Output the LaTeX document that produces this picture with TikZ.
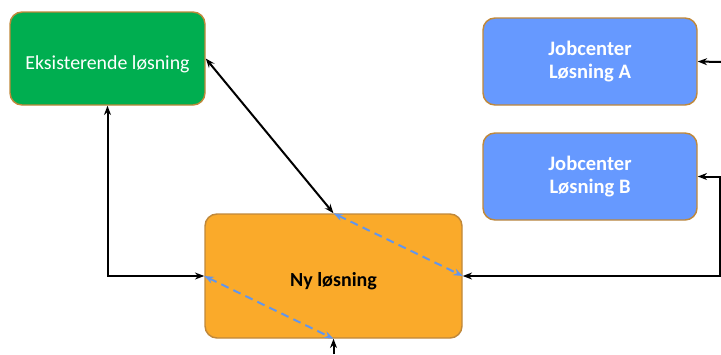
\documentclass[tikz,border=0pt]{standalone}
\usepackage{fontspec}
\setmainfont{Carlito}
\usetikzlibrary{arrows.meta}
\definecolor{kant}{RGB}{192,136,58}
\definecolor{groen}{RGB}{0,174,80}
\definecolor{blaa}{RGB}{102,153,255}
\definecolor{oransje}{RGB}{250,170,42}
\definecolor{stipla}{RGB}{98,150,236}
\tikzset{
  boks/.style={draw=kant, line width=1.1pt, rounded corners=9pt, align=center, execute at begin node={\rule{0pt}{19pt}}},
  boksgroen/.style={boks, fill=groen, text=white, minimum width=146.25pt, minimum height=69.75pt, font=\fontsize{14.9}{17}\selectfont},
  boksjob/.style={boks, fill=blaa, text=white, minimum width=160.5pt, minimum height=65.25pt, font=\fontsize{15.4}{17.5}\selectfont\bfseries},
  boksny/.style={boks, fill=oransje, text=black, minimum width=192.75pt, minimum height=93pt, font=\fontsize{15}{18}\selectfont\bfseries},
  pil/.style={line width=1.5pt, draw=black},
  stiplet/.style={line width=1.5pt, draw=stipla, dash pattern=on 6pt off 4pt, {Stealth[length=7pt]}-{Stealth[length=7pt]}}
}
\begin{document}
\begin{tikzpicture}[x=0.75pt, y=-0.75pt]
    \useasboundingbox (0,0) rectangle (721,354);
    % Bokser
    \node[boksgroen] (eksist) at (107.5,58.5) {Eksisterende løsning};
    \node[boksjob] (jobA) at (590,61.5) {Jobcenter\\Løsning A};
    \node[boksjob] (jobB) at (590,176.5) {Jobcenter\\Løsning B};
    \node[boksny] (ny) at (333.5,276) {Ny løsning};
    % Frie ender
    \coordinate (innA) at (721,62);
    \coordinate (innNy) at (333.5,354);
    % Piler
    \draw[pil, {Stealth[length=7pt]}-{Stealth[length=7pt]}] (eksist.south) |- (ny.west);
    \draw[pil, {Stealth[length=7pt]}-{Stealth[length=7pt]}] (eksist.east) -- (ny.north);
    \draw[pil, {Stealth[length=7pt]}-{Stealth[length=7pt]}] (jobB.east) -- ++(22,0) |- (ny.east);
    \draw[pil, -{Stealth[length=7pt]}] (innA) -- (jobA.east);
    \draw[pil, -{Stealth[length=7pt]}] (innNy) -- (ny.south);
    % Stiplede piler
    \draw[stiplet] (ny.north) -- (ny.east);
    \draw[stiplet] (ny.west) -- (ny.south);
\end{tikzpicture}
\end{document}
